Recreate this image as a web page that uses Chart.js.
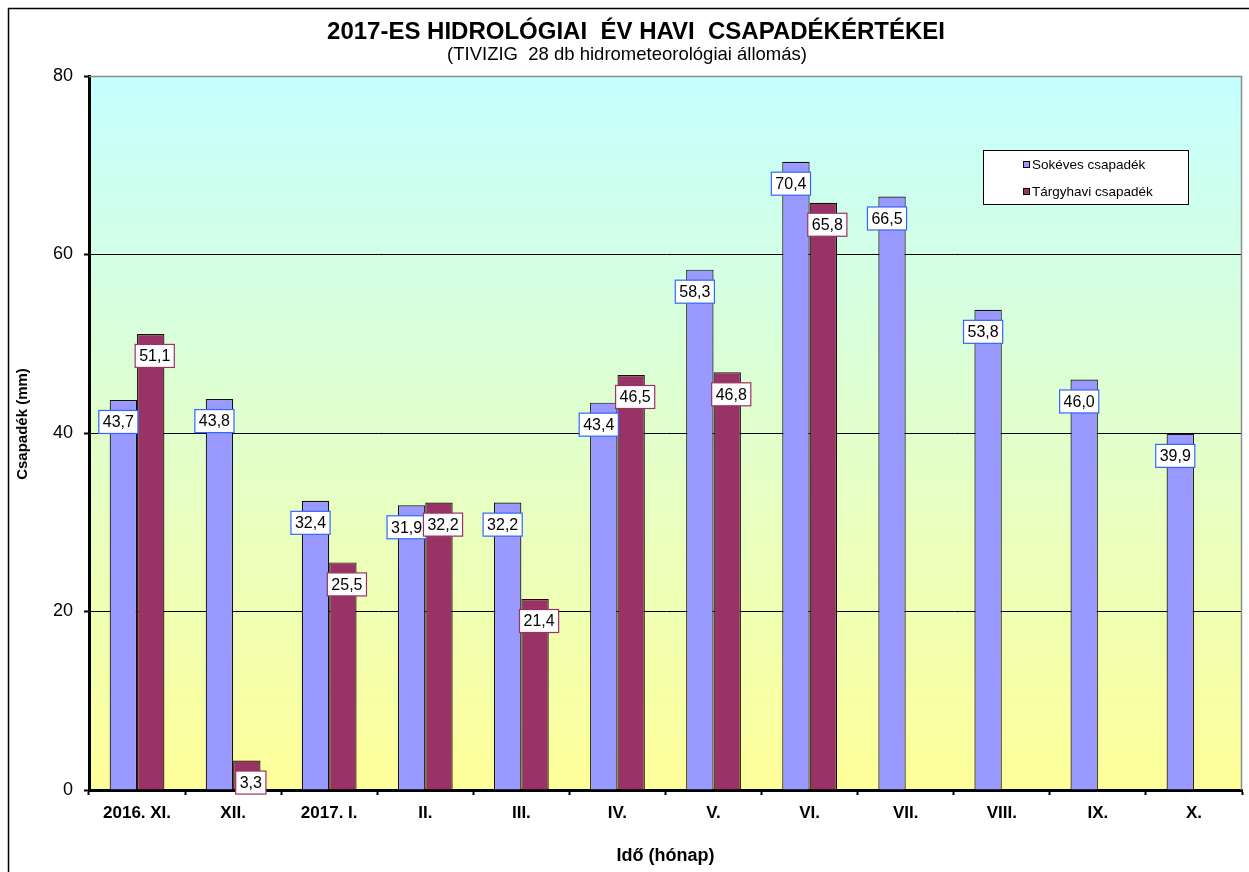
<!DOCTYPE html>
<html>
<head>
<meta charset="utf-8">
<script src="https://cdn.jsdelivr.net/npm/chart.js@4/dist/chart.umd.min.js"></script>
<style>
  html, body { margin: 0; padding: 0; background: #fff; }
  #wrap { width: 1249px; height: 872px; position: relative; }
</style>
</head>
<body>
<div id="wrap"><canvas id="chart"></canvas></div>
<script>
// havi kategóriák és a két adatsor (mm)
const months = ['2016. XI.', 'XII.', '2017. I.', 'II.', 'III.', 'IV.', 'V.', 'VI.', 'VII.', 'VIII.', 'IX.', 'X.'];
const sokeves = [43.7, 43.8, 32.4, 31.9, 32.2, 43.4, 58.3, 70.4, 66.5, 53.8, 46.0, 39.9];
const targyhavi = [51.1, 3.3, 25.5, 32.2, 21.4, 46.5, 46.8, 65.8, null, null, null, null];
const yTicks = [0, 20, 40, 60, 80];

const FONT = '"Liberation Sans", Arial, sans-serif';
const BLUE = '#9999ff';
const MAROON = '#993366';

// háttér, keret, címek, jelmagyarázat, adatcímkék
const decor = {
  id: 'decor',
  beforeDraw(chart) {
    const { ctx, chartArea: a } = chart;
    ctx.save();
    const g = ctx.createLinearGradient(0, a.top, 0, a.bottom);
    g.addColorStop(0, '#c4ffff');
    g.addColorStop(1, '#ffff99');
    ctx.fillStyle = g;
    ctx.fillRect(a.left, a.top, a.right - a.left, a.bottom - a.top);
    ctx.restore();
  },
  beforeDatasetsDraw(chart) {
    const { ctx, chartArea: a } = chart;
    ctx.save();
    ctx.strokeStyle = '#8c8c8c';
    ctx.lineWidth = 1.5;
    ctx.beginPath();
    ctx.moveTo(a.left, a.top + 0.5);
    ctx.lineTo(a.right - 0.5, a.top + 0.5);
    ctx.lineTo(a.right - 0.5, a.bottom);
    ctx.stroke();
    ctx.restore();
  },
  afterDatasetsDraw(chart) {
    const { ctx } = chart;
    ctx.save();
    ctx.font = '16px ' + FONT;
    ctx.textAlign = 'center';
    ctx.textBaseline = 'middle';
    chart.data.datasets.forEach((ds, di) => {
      const meta = chart.getDatasetMeta(di);
      meta.data.forEach((bar, i) => {
        const v = ds.data[i];
        if (v == null) return;
        const txt = v.toFixed(1).replace('.', ',');
        const w = ctx.measureText(txt).width + 8;
        const h = 23;
        const cx = bar.x + (di === 0 ? -5 : 4);
        const cy = bar.y + 22;
        ctx.fillStyle = '#fff';
        ctx.fillRect(cx - w / 2, cy - h / 2, w, h);
        ctx.strokeStyle = di === 0 ? '#3366ff' : MAROON;
        ctx.lineWidth = 1.2;
        ctx.strokeRect(cx - w / 2, cy - h / 2, w, h);
        ctx.fillStyle = '#000';
        ctx.fillText(txt, cx, cy + 1);
      });
    });
    ctx.restore();
  },
  afterDraw(chart) {
    const { ctx } = chart;
    ctx.save();
    // külső keret
    ctx.strokeStyle = '#000';
    ctx.lineWidth = 1.5;
    ctx.strokeRect(8.5, 8.5, 1400, 1000);

    // címek
    ctx.fillStyle = '#000';
    ctx.textAlign = 'center';
    ctx.textBaseline = 'middle';
    ctx.font = 'bold 24px ' + FONT;
    ctx.fillText('2017-ES HIDROLÓGIAI  ÉV HAVI  CSAPADÉKÉRTÉKEI', 636, 32);
    ctx.font = '18.5px ' + FONT;
    ctx.fillText('(TIVIZIG  28 db hidrometeorológiai állomás)', 627, 55);

    // függőleges tengelycím
    ctx.save();
    ctx.translate(23, 424);
    ctx.rotate(-Math.PI / 2);
    ctx.font = 'bold 15px ' + FONT;
    ctx.fillText('Csapadék (mm)', 0, 0);
    ctx.restore();

    // jelmagyarázat
    const lx = 983, ly = 150, lw = 205, lh = 54;
    ctx.fillStyle = '#fff';
    ctx.fillRect(lx, ly, lw, lh);
    ctx.strokeStyle = '#000';
    ctx.lineWidth = 1;
    ctx.strokeRect(lx + 0.5, ly + 0.5, lw, lh);
    const items = [['Sokéves csapadék', BLUE, 165], ['Tárgyhavi csapadék', MAROON, 192]];
    ctx.font = '13.5px ' + FONT;
    ctx.textAlign = 'left';
    items.forEach(([t, c, y]) => {
      ctx.fillStyle = c;
      ctx.fillRect(1023, y - 4, 7, 7);
      ctx.strokeStyle = '#000';
      ctx.strokeRect(1023.5, y - 3.5, 6, 6);
      ctx.fillStyle = '#000';
      ctx.fillText(t, 1032, y);
    });
    ctx.restore();
  }
};

new Chart(document.getElementById('chart'), {
  type: 'bar',
  data: {
    labels: months,
    datasets: [
      {
        label: 'Sokéves csapadék',
        data: sokeves,
        backgroundColor: BLUE,
        borderColor: '#111',
        borderWidth: 1.2,
        borderSkipped: 'bottom',
        categoryPercentage: 0.57,
        barPercentage: 1
      },
      {
        label: 'Tárgyhavi csapadék',
        data: targyhavi,
        backgroundColor: MAROON,
        borderColor: '#111',
        borderWidth: 1.2,
        borderSkipped: 'bottom',
        categoryPercentage: 0.57,
        barPercentage: 1
      }
    ]
  },
  options: {
    responsive: true,
    maintainAspectRatio: false,
    animation: false,
    layout: { padding: { top: 76, right: 7, left: 0, bottom: 0 } },
    plugins: {
      legend: { display: false },
      tooltip: { enabled: false },
      title: { display: false }
    },
    scales: {
      x: {
        afterFit(scale) { scale.height = 82; },
        grid: {
          offset: true,
          drawOnChartArea: false,
          tickLength: 5,
          tickColor: '#000',
          tickWidth: 2
        },
        border: { color: '#000', width: 3 },
        ticks: {
          padding: 8,
          color: '#000',
          font: { family: FONT, size: 17, weight: 'bold' },
          maxRotation: 0,
          autoSkip: false
        },
        title: {
          display: true,
          text: 'Idő (hónap)',
          color: '#000',
          font: { family: FONT, size: 18, weight: 'bold' },
          padding: { top: 0, bottom: 5 }
        }
      },
      y: {
        min: 0,
        max: 80,
        afterFit(scale) { scale.width = 89; },
        afterBuildTicks(scale) { scale.ticks = yTicks.map(v => ({ value: v })); },
        grid: {
          color: ctx => (ctx.tick && (ctx.tick.value === 0 || ctx.tick.value === 80)) ? 'rgba(0,0,0,0)' : '#000',
          lineWidth: 1,
          tickLength: 5,
          tickColor: '#000',
          tickWidth: 2
        },
        border: { color: '#000', width: 3 },
        ticks: {
          padding: 11,
          color: '#000',
          font: { family: FONT, size: 18 }
        },
        title: { display: false }
      }
    }
  },
  plugins: [decor]
});
</script>
</body>
</html>
